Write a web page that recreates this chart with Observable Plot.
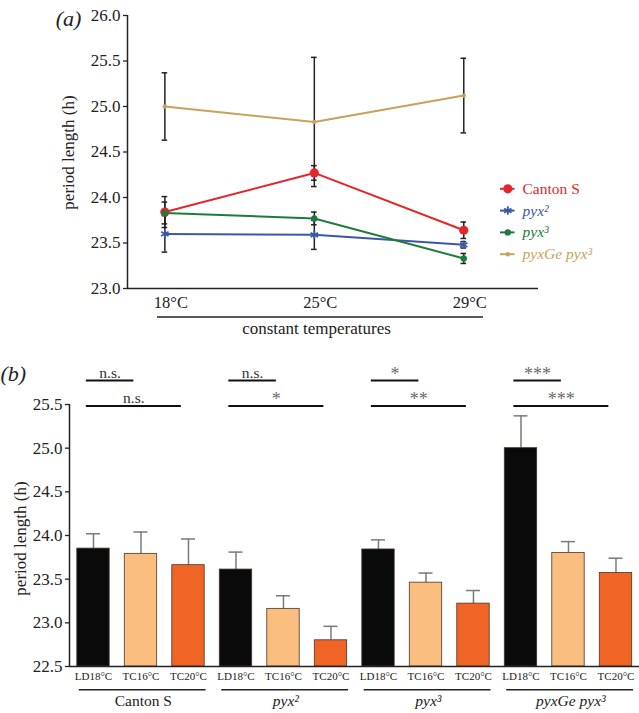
<!DOCTYPE html>
<html>
<head>
<meta charset="utf-8">
<script src="https://cdn.jsdelivr.net/npm/d3@7"></script>
<script src="https://cdn.jsdelivr.net/npm/@observablehq/plot@0.6"></script>
<style>
  html, body { margin: 0; padding: 0; background: #fff; }
  #wrap { position: relative; width: 639px; height: 713px; overflow: hidden; background: #fff; }
  #a { position: absolute; left: 0; top: 0; z-index: 2; }
  #b { position: absolute; left: 0; top: 335px; z-index: 1; }
  #wrap svg, #wrap svg text, #wrap svg tspan { font-family: "Liberation Serif", "Times New Roman", serif !important; }
</style>
</head>
<body>
<div id="wrap"><div id="a"></div><div id="b"></div></div>
<script>
// ---------- Panel (a) data ----------
const temps = ["18°C", "25°C", "29°C"];
const seriesNames = ["Canton S", "pyx²", "pyx³", "pyxGe pyx³"];
const cantonMean = [23.84, 24.27, 23.64];
const cantonErr  = [0.17, 0.08, 0.09];
const pyx2Mean   = [23.60, 23.59, 23.48];
const pyx2Err    = [0.20, 0.16, 0.035];
const pyx3Mean   = [23.83, 23.77, 23.33];
const pyx3Err    = [0.12, 0.07, 0.055];
const pyxGeMean  = [25.00, 24.83, 25.12];
const pyxGeErr   = [0.37, 0.71, 0.41];
const yTicksA = [23.0, 23.5, 24.0, 24.5, 25.0, 25.5, 26.0];

// ---------- Panel (b) data ----------
const groups = ["Canton S", "pyx²", "pyx³", "pyxGe pyx³"];
const conditions = ["LD18°C", "TC16°C", "TC20°C"];
const cantonBars    = [23.85, 23.79, 23.66];
const cantonBarErr  = [0.17, 0.25, 0.30];
const pyx2Bars      = [23.61, 23.16, 22.80];
const pyx2BarErr    = [0.20, 0.15, 0.16];
const pyx3Bars      = [23.84, 23.46, 23.22];
const pyx3BarErr    = [0.11, 0.11, 0.15];
const pyxGeBars     = [25.00, 23.80, 23.57];
const pyxGeBarErr   = [0.37, 0.13, 0.17];
const sigLDvsTC16 = ["n.s.", "n.s.", "*", "***"];
const sigLDvsTC20 = ["n.s.", "*", "**", "***"];
const yTicksB = [22.5, 23.0, 23.5, 24.0, 24.5, 25.0, 25.5];

// ---------- styling ----------
const FONT = "Liberation Serif";
const INK = "#222";
const seriesColors = ["#e3262c", "#3b58a8", "#1e7b3e", "#c9a15c"];
const condColors = ["#0a0a0a", "#f9be80", "#f06425"];

// ================= Panel (a) =================
const A = {w: 639, h: 340, top: 15, bottom: 52, left: 127, right: 101};
const xDomA = [-0.25, 2.5], yDomA = [23, 26];
const xA = d3.scaleLinear(xDomA, [A.left, A.w - A.right]);
const yA = d3.scaleLinear(yDomA, [A.h - A.bottom, A.top]);

const meansA = [cantonMean, pyx2Mean, pyx3Mean, pyxGeMean];
const errsA = [cantonErr, pyx2Err, pyx3Err, pyxGeErr];
const rowsA = [];
seriesNames.forEach((s, si) => temps.forEach((t, ti) =>
  rowsA.push({series: s, si, ti, mean: meansA[si][ti], err: errsA[si][ti]})));

const capA = 2.8 / (xA(1) - xA(0));
const dotStyles = [
  {r: 4.6, fill: seriesColors[0]},
  {r: 4, symbol: "asterisk", stroke: seriesColors[1], strokeWidth: 1.8},
  {r: 3.2, fill: seriesColors[2]},
  {r: 2.2, fill: seriesColors[3]}
];

const legendMarks = [];
seriesNames.forEach((s, si) => {
  const ly = yA.invert(188.3 + si * 21.8);
  legendMarks.push(
    Plot.ruleY([ly], {x1: xA.invert(500), x2: xA.invert(514.5), stroke: seriesColors[si], strokeWidth: 2}),
    Plot.dot([ly], {x: xA.invert(507.3), y: d => d, ...dotStyles[si]}),
    Plot.text([s], {x: xA.invert(522), y: ly, text: d => d, textAnchor: "start", fontSize: 15.5, fontFamily: FONT,
      fill: seriesColors[si], fontStyle: si === 0 ? "normal" : "italic"})
  );
});

const plotA = Plot.plot({
  width: A.w, height: A.h,
  marginTop: A.top, marginBottom: A.bottom, marginLeft: A.left, marginRight: A.right,
  style: {fontFamily: FONT, fontSize: "16px", color: INK, background: "transparent", overflow: "visible"},
  x: {domain: xDomA, axis: null},
  y: {domain: yDomA, axis: null},
  marks: [
    Plot.axisY(yTicksA, {tickSize: 4, tickPadding: 3, tickFormat: d => d.toFixed(1), fontSize: 17, fontFamily: FONT, label: null, strokeWidth: 1.3}),
    Plot.ruleX([xDomA[0]], {y1: yDomA[0], y2: yDomA[1], stroke: INK, strokeWidth: 1.5}),
    Plot.ruleY([yDomA[0]], {x1: xDomA[0], x2: xDomA[1], stroke: INK, strokeWidth: 1.5}),
    Plot.text(temps, {x: (d, i) => i, y: yDomA[0], dy: 14, dx: 6, text: d => d, fontSize: 16.5, fontFamily: FONT, fill: INK}),
    Plot.ruleY([yDomA[0]], {x1: xA.invert(157), x2: xA.invert(483), dy: 28.5, stroke: INK, strokeWidth: 1.5}),
    Plot.text(["constant temperatures"], {x: xA.invert(316), y: yDomA[0], dy: 40.5, text: d => d, fontSize: 17, fontFamily: FONT, fill: INK}),
    Plot.text(["period length (h)"], {x: xA.invert(68), y: yA.invert(152), text: d => d, rotate: -90, fontSize: 17, fontFamily: FONT, fill: INK}),
    Plot.text(["(a)"], {x: xA.invert(68), y: yA.invert(18), text: d => d, fontSize: 22, fontFamily: FONT, fontStyle: "italic", fill: INK}),
    // error bars
    Plot.ruleX(rowsA, {x: "ti", y1: d => d.mean - d.err, y2: d => d.mean + d.err, stroke: INK, strokeWidth: 1.5}),
    Plot.ruleY(rowsA, {y: d => d.mean - d.err, x1: d => d.ti - capA, x2: d => d.ti + capA, stroke: INK, strokeWidth: 1.5}),
    Plot.ruleY(rowsA, {y: d => d.mean + d.err, x1: d => d.ti - capA, x2: d => d.ti + capA, stroke: INK, strokeWidth: 1.5}),
    // lines
    ...seriesNames.map((s, si) => Plot.line(rowsA.filter(d => d.si === si), {x: "ti", y: "mean", stroke: seriesColors[si], strokeWidth: 2})),
    // dots
    ...seriesNames.map((s, si) => Plot.dot(rowsA.filter(d => d.si === si), {x: "ti", y: "mean", ...dotStyles[si]})),
    ...legendMarks
  ]
});
document.getElementById("a").appendChild(plotA);

// ================= Panel (b) =================
const B = {w: 639, h: 378, top: 69, bottom: 47, left: 69, right: 0};
const xDomB = [-0.505, 11.495], yDomB = [22.5, 25.5];
const xB = d3.scaleLinear(xDomB, [B.left, B.w - B.right]);
const yB = d3.scaleLinear(yDomB, [B.h - B.bottom, B.top]);

const barMeans = [cantonBars, pyx2Bars, pyx3Bars, pyxGeBars];
const barErrs = [cantonBarErr, pyx2BarErr, pyx3BarErr, pyxGeBarErr];
const rowsB = [];
groups.forEach((g, gi) => conditions.forEach((c, ci) =>
  rowsB.push({group: g, gi, cond: c, ci, i: gi * 3 + ci, mean: barMeans[gi][ci], err: barErrs[gi][ci]})));

const halfBar = 16.2 / (xB(1) - xB(0));
const capB = 7 / (xB(1) - xB(0));
const row1Y = yB.invert(45), row2Y = yB.invert(70.5);
const sigRows = [];
groups.forEach((g, gi) => {
  sigRows.push({label: sigLDvsTC16[gi], a: gi * 3, b: gi * 3 + 1, y: row1Y});
  sigRows.push({label: sigLDvsTC20[gi], a: gi * 3, b: gi * 3 + 2, y: row2Y});
});

const plotB = Plot.plot({
  width: B.w, height: B.h,
  marginTop: B.top, marginBottom: B.bottom, marginLeft: B.left, marginRight: B.right,
  style: {fontFamily: FONT, fontSize: "16px", color: INK, background: "transparent", overflow: "visible"},
  x: {domain: xDomB, axis: null},
  y: {domain: yDomB, axis: null},
  color: {domain: conditions, range: condColors},
  marks: [
    // error bars (upper only)
    Plot.ruleX(rowsB, {x: "i", y1: "mean", y2: d => d.mean + d.err, stroke: "#7a7a7a", strokeWidth: 1.5}),
    Plot.ruleY(rowsB, {y: d => d.mean + d.err, x1: d => d.i - capB, x2: d => d.i + capB, stroke: "#7a7a7a", strokeWidth: 1.5}),
    Plot.rectY(rowsB, {x1: d => d.i - halfBar, x2: d => d.i + halfBar, y1: yDomB[0], y2: "mean", fill: "cond", stroke: "#4a3528", strokeWidth: 0.8}),
    Plot.axisY(yTicksB, {tickSize: 4, tickPadding: 3, tickFormat: d => d.toFixed(1), fontSize: 17, fontFamily: FONT, label: null, strokeWidth: 1.3}),
    Plot.ruleX([xDomB[0]], {y1: yDomB[0], y2: yDomB[1], stroke: INK, strokeWidth: 1.5}),
    Plot.ruleY([yDomB[0]], {x1: xDomB[0], x2: xDomB[1], stroke: INK, strokeWidth: 1.5}),
    Plot.text(rowsB, {x: "i", y: yDomB[0], dy: 9.5, text: "cond", fontSize: 11, fontFamily: FONT, fill: INK}),
    Plot.ruleY(groups, {y: yDomB[0], x1: (d, gi) => gi * 3 - 0.3, x2: (d, gi) => gi * 3 + 2.37, dy: 23.3, stroke: INK, strokeWidth: 1.5}),
    Plot.text(groups.filter((d, gi) => gi === 0), {x: 1.05, y: yDomB[0], dy: 35, text: d => d, fontSize: 15.5, fontFamily: FONT, fill: INK}),
    Plot.text(groups.slice(1), {x: (d, k) => (k + 1) * 3 + 1.05, y: yDomB[0], dy: 35, text: d => d, fontSize: 15.5, fontFamily: FONT, fontStyle: "italic", fill: INK}),
    // significance annotations
    Plot.ruleY(sigRows, {y: "y", x1: d => d.a - 0.15, x2: d => d.b - 0.15, stroke: "#111", strokeWidth: 2}),
    Plot.text(sigRows.filter(d => d.label === "n.s."), {x: d => (d.a + d.b) / 2 - 0.15, y: "y", dy: -3, lineAnchor: "bottom", text: "label",
      fontSize: 15.5, fontFamily: FONT, fill: "#333"}),
    Plot.text(sigRows.filter(d => d.label !== "n.s."), {x: d => (d.a + d.b) / 2 - 0.15, y: "y", dy: -1, lineAnchor: "bottom", text: "label",
      fontSize: 18, fontFamily: FONT, fill: "#6a6a6a"}),
    Plot.text(["period length (h)"], {x: xB.invert(20), y: yB.invert(203), text: d => d, rotate: -90, fontSize: 17, fontFamily: FONT, fill: INK}),
    Plot.text(["(b)"], {x: xB.invert(0), y: yB.invert(38), text: d => d, textAnchor: "start", fontSize: 22, fontFamily: FONT, fontStyle: "italic", fill: INK})
  ]
});
document.getElementById("b").appendChild(plotB);
</script>
</body>
</html>
